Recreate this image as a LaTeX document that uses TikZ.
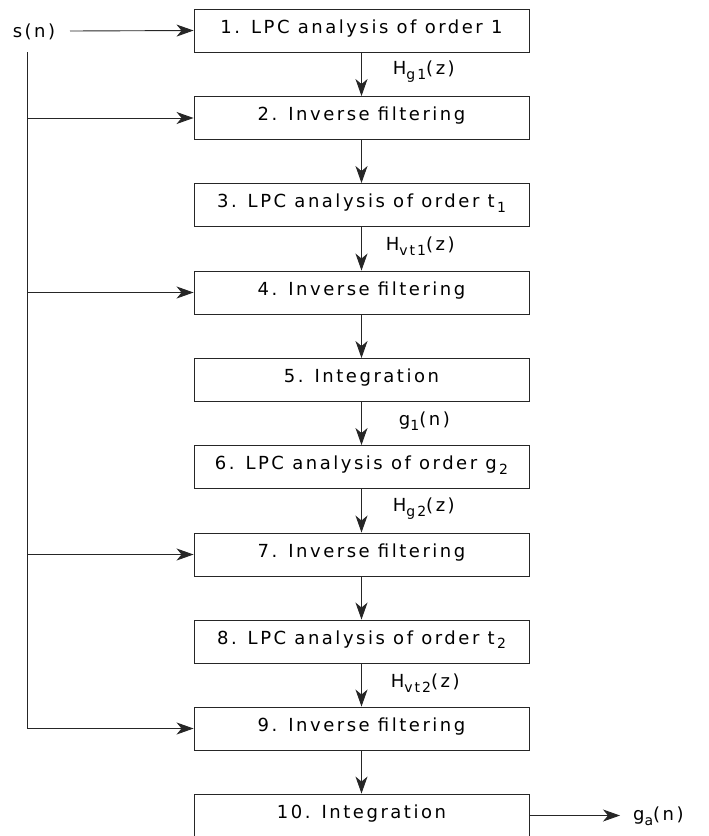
\documentclass[tikz,border=0pt]{standalone}
\usepackage{fontspec}
\setmainfont[LetterSpace=14]{DejaVu Sans}
\usetikzlibrary{arrows.meta}

\newcommand{\subi}[1]{\raisebox{-0.5ex}{\fontsize{14}{15}\selectfont #1}}

\begin{document}
\begin{tikzpicture}[
        x=1pt, y=-1pt,
        bloque/.style={rectangle, draw=black!85, line width=0.9pt, minimum width=335pt, inner xsep=0pt, inner ysep=4pt, text height=20pt, text depth=15pt, font=\fontsize{18}{21}\selectfont},
        etiqueta/.style={inner sep=0pt, anchor=west, font=\fontsize{18}{21}\selectfont},
        flecha/.style={-{Stealth[length=17pt, width=12pt, inset=5pt]}, line width=0.9pt, draw=black!85}
    ]
        \useasboundingbox (0,0) rectangle (709,836);

        \node[bloque] (b1) at (361.5,30.5) {1. LPC analysis of order 1};
        \node[bloque] (b2) at (361.5,118) {2. Inverse filtering};
        \node[bloque] (b3) at (361.5,205) {3. LPC analysis of order t\subi{\,1}};
        \node[bloque] (b4) at (361.5,292.5) {4. Inverse filtering};
        \node[bloque] (b5) at (361.5,380) {5. Integration};
        \node[bloque] (b6) at (361.5,467) {6. LPC analysis of order g\subi{\,2}};
        \node[bloque] (b7) at (361.5,554.5) {7. Inverse filtering};
        \node[bloque] (b8) at (361.5,641.5) {8. LPC analysis of order t\subi{\,2}};
        \node[bloque] (b9) at (361.5,728.5) {9. Inverse filtering};
        \node[bloque] (b10) at (361.5,815.5) {10. Integration};

        \node[etiqueta, anchor=center] (sn) at (34,32) {s(n)};
        \node[etiqueta] (ga) at (633,816) {g\subi{a}(n)};
        \coordinate (entrada) at (70,31);
        \coordinate (salida) at (620,815.5);
        \coordinate (bus) at (27,52);

        \draw[flecha] (entrada) -- (b1.west);
        \draw[flecha] (b1) -- node[etiqueta, pos=0.45, xshift=31pt] {H\subi{g1}(z)} (b2);
        \draw[flecha] (b2) -- (b3);
        \draw[flecha] (b3) -- node[etiqueta, pos=0.45, xshift=24pt] {H\subi{vt1}(z)} (b4);
        \draw[flecha] (b4) -- (b5);
        \draw[flecha] (b5) -- node[etiqueta, pos=0.45, xshift=37pt] {g\subi{1}(n)} (b6);
        \draw[flecha] (b6) -- node[etiqueta, pos=0.45, xshift=31pt] {H\subi{g2}(z)} (b7);
        \draw[flecha] (b7) -- (b8);
        \draw[flecha] (b8) -- node[etiqueta, pos=0.45, xshift=29pt] {H\subi{vt2}(z)} (b9);
        \draw[flecha] (b9) -- (b10);

        \draw[flecha] (bus) |- (b9.west);
        \draw[flecha] (bus |- b2.west) -- (b2.west);
        \draw[flecha] (bus |- b4.west) -- (b4.west);
        \draw[flecha] (bus |- b7.west) -- (b7.west);
        \draw[flecha] (b10.east) -- (salida);
    \end{tikzpicture}
\end{document}
